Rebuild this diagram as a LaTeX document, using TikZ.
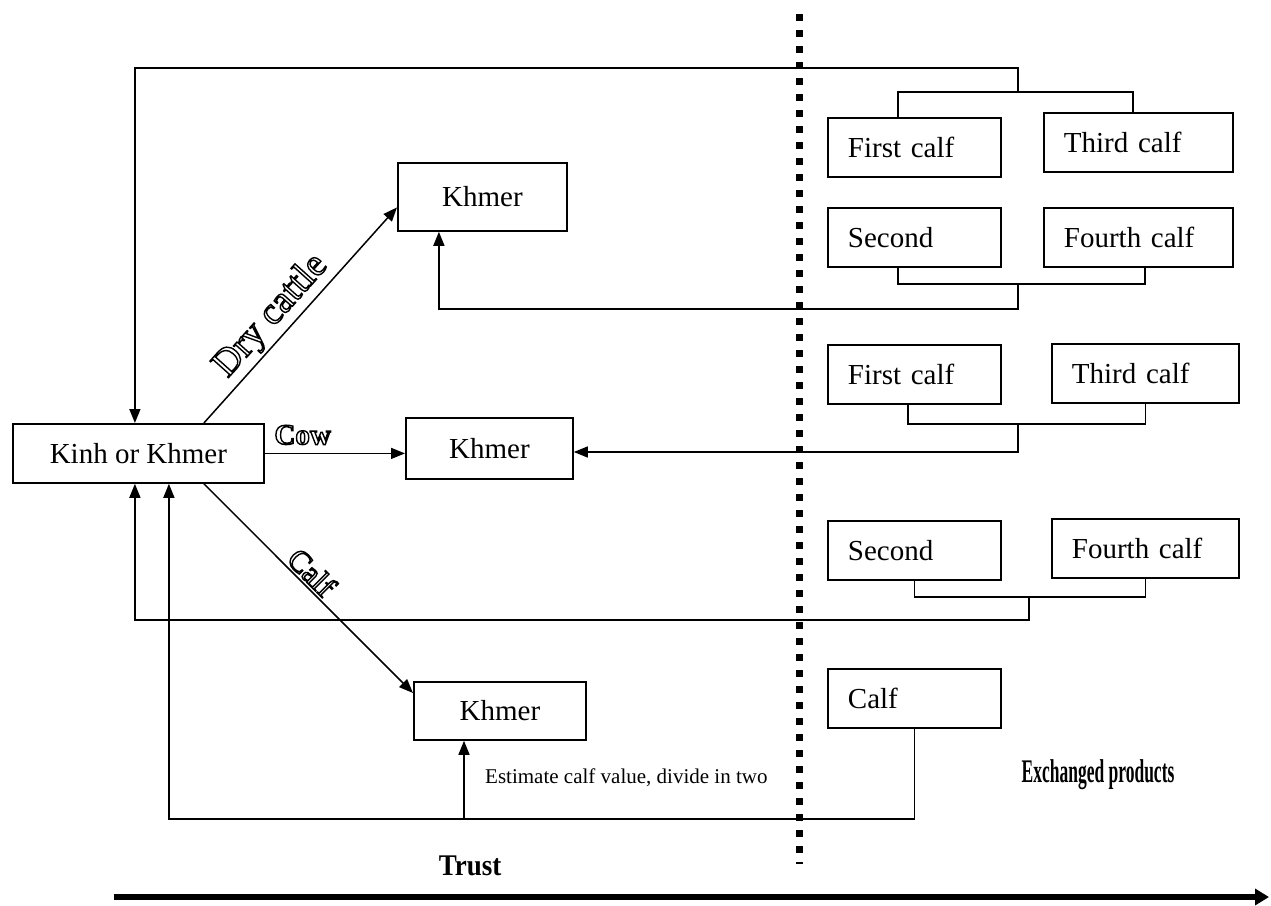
\documentclass[tikz,border=0pt]{standalone}
\usepackage{fontspec}
\setmainfont{Liberation Serif}
\usepackage{graphicx}
\usetikzlibrary{arrows.meta,calc}
% hollow (outlined) lettering: PDF text render mode 1 strokes the glyphs
\newcommand{\hollow}[1]{\special{pdf:code 1 Tr 1.4 w}#1\special{pdf:code 0 Tr}}

\begin{document}
\begin{tikzpicture}[x=1pt,y=-1pt,
  box/.style={draw, line width=1.8, anchor=north west, minimum height=59,
    inner sep=0, font=\fontsize{29}{34}\selectfont},
  cbox/.style={box, align=center, minimum width=#1},
  lbox/.style={box, align=left, inner xsep=20, text width=#1},
  line/.style={line width=1.5},
  arr/.style={line, -{Triangle[length=14,width=11]}},
  tag/.style={inner sep=0, font=\fontsize{#1}{#1}\selectfont},
]
\useasboundingbox (0,0) rectangle (1271,905);

% actors
\node[cbox=251] (kinh) at (12,423) {Kinh or Khmer};
\node[cbox=169, minimum height=68] (kh1) at (397,162) {Khmer};
\node[cbox=167, minimum height=61] (kh2) at (405,417) {Khmer};
\node[cbox=172, minimum height=58] (kh3) at (413,681) {Khmer};

% exchanged products
\node[lbox=133pt] (fc1) at (827,117) {First calf};
\node[lbox=149pt] (tc1) at (1043,112) {Third calf};
\node[lbox=133pt] (sc1) at (827,207) {Second};
\node[lbox=149pt] (fo1) at (1043,207) {Fourth calf};
\node[lbox=133pt] (fc2) at (827,344) {First calf};
\node[lbox=147pt] (tc2) at (1051,343) {Third calf};
\node[lbox=133pt] (sc2) at (827,520) {Second};
\node[lbox=147pt] (fo2) at (1051,518) {Fourth calf};
\node[lbox=133pt] (calf) at (827,668) {Calf};

% junction points of the brackets
\coordinate (b1) at (1018,92);  \coordinate (r1) at (1018,68);
\coordinate (b2) at (1018,284); \coordinate (r2) at (1018,309);
\coordinate (b3) at (1018,424); \coordinate (r3) at (1018,452);
\coordinate (b4) at (1029,597); \coordinate (r4) at (1029,620);
\coordinate (r5) at (464,819);

% first and third calf back to the owner
\draw[line] ([xshift=-16.5]fc1.north) |- (b1) -| ([xshift=-5.5]tc1.north);
\draw[arr] (b1) -- (r1) -| ([xshift=-3.5]kinh.north);

% second and fourth calf to the Khmer keeper
\draw[line] ([xshift=-16.5]sc1.south) |- (b2) -| ([xshift=6.5]fo1.south);
\draw[arr] (b2) -- (r2) -| ([xshift=-43.5]kh1.south);

% first and third calf to the Khmer keeper
\draw[line] ([xshift=-6.5]fc2.south) |- (b3) -| (tc2.south);
\draw[arr] (b3) -- (r3) -- (r3 -| kh2.east);

% second and fourth calf back to the owner
\draw[line] (sc2.south) |- (b4) -| (fo2.south);
\draw[arr] (b4) -- (r4) -| ([xshift=-3.5]kinh.south);

% calf shared between both
\draw[arr] (calf.south) |- (r5) -| ([xshift=30.5]kinh.south);
\draw[arr] (r5) -- (r5 |- kh3.south);
\node[tag=21, anchor=west] (est) at (485,778) {Estimate calf value, divide in two};

% what is handed over
\draw[arr] ([xshift=65.5]kinh.north) --
  node[pos=0.43, sloped, above=3, tag=38] (ldry) {\hollow{Dry cattle}}
  ([yshift=-10.5]kh1.west);
\draw[arr] (kinh.east) --
  node[pos=0.27, above=8, tag=29] (lcow) {\hollow{\bfseries Cow}}
  (kinh.east -| kh2.west);
\draw[arr] ([xshift=65.5]kinh.south) --
  node[pos=0.47, sloped, above=2, tag=31] (lcalf) {\hollow{Calf}}
  ([yshift=-12]kh3.north west);

% boundary
\coordinate (s0) at (799,14);
\coordinate (s1) at (799,864);
\draw[line width=7, dash pattern=on 7 off 9] (s0) -- (s1);

\node[inner sep=0] (exch) at (1098,775)
  {\bfseries\fontsize{33}{36}\selectfont\scalebox{0.53}[1]{Exchanged products}};

% trust axis
\node[inner sep=0] (trust) at (470,866)
  {\bfseries\fontsize{30}{34}\selectfont\scalebox{0.9}[1]{Trust}};
\coordinate (t0) at (114,897);
\coordinate (t1) at (1269,897);
\draw[line width=6, -{Triangle[length=14,width=16]}] (t0) -- (t1);
\end{tikzpicture}
\end{document}
